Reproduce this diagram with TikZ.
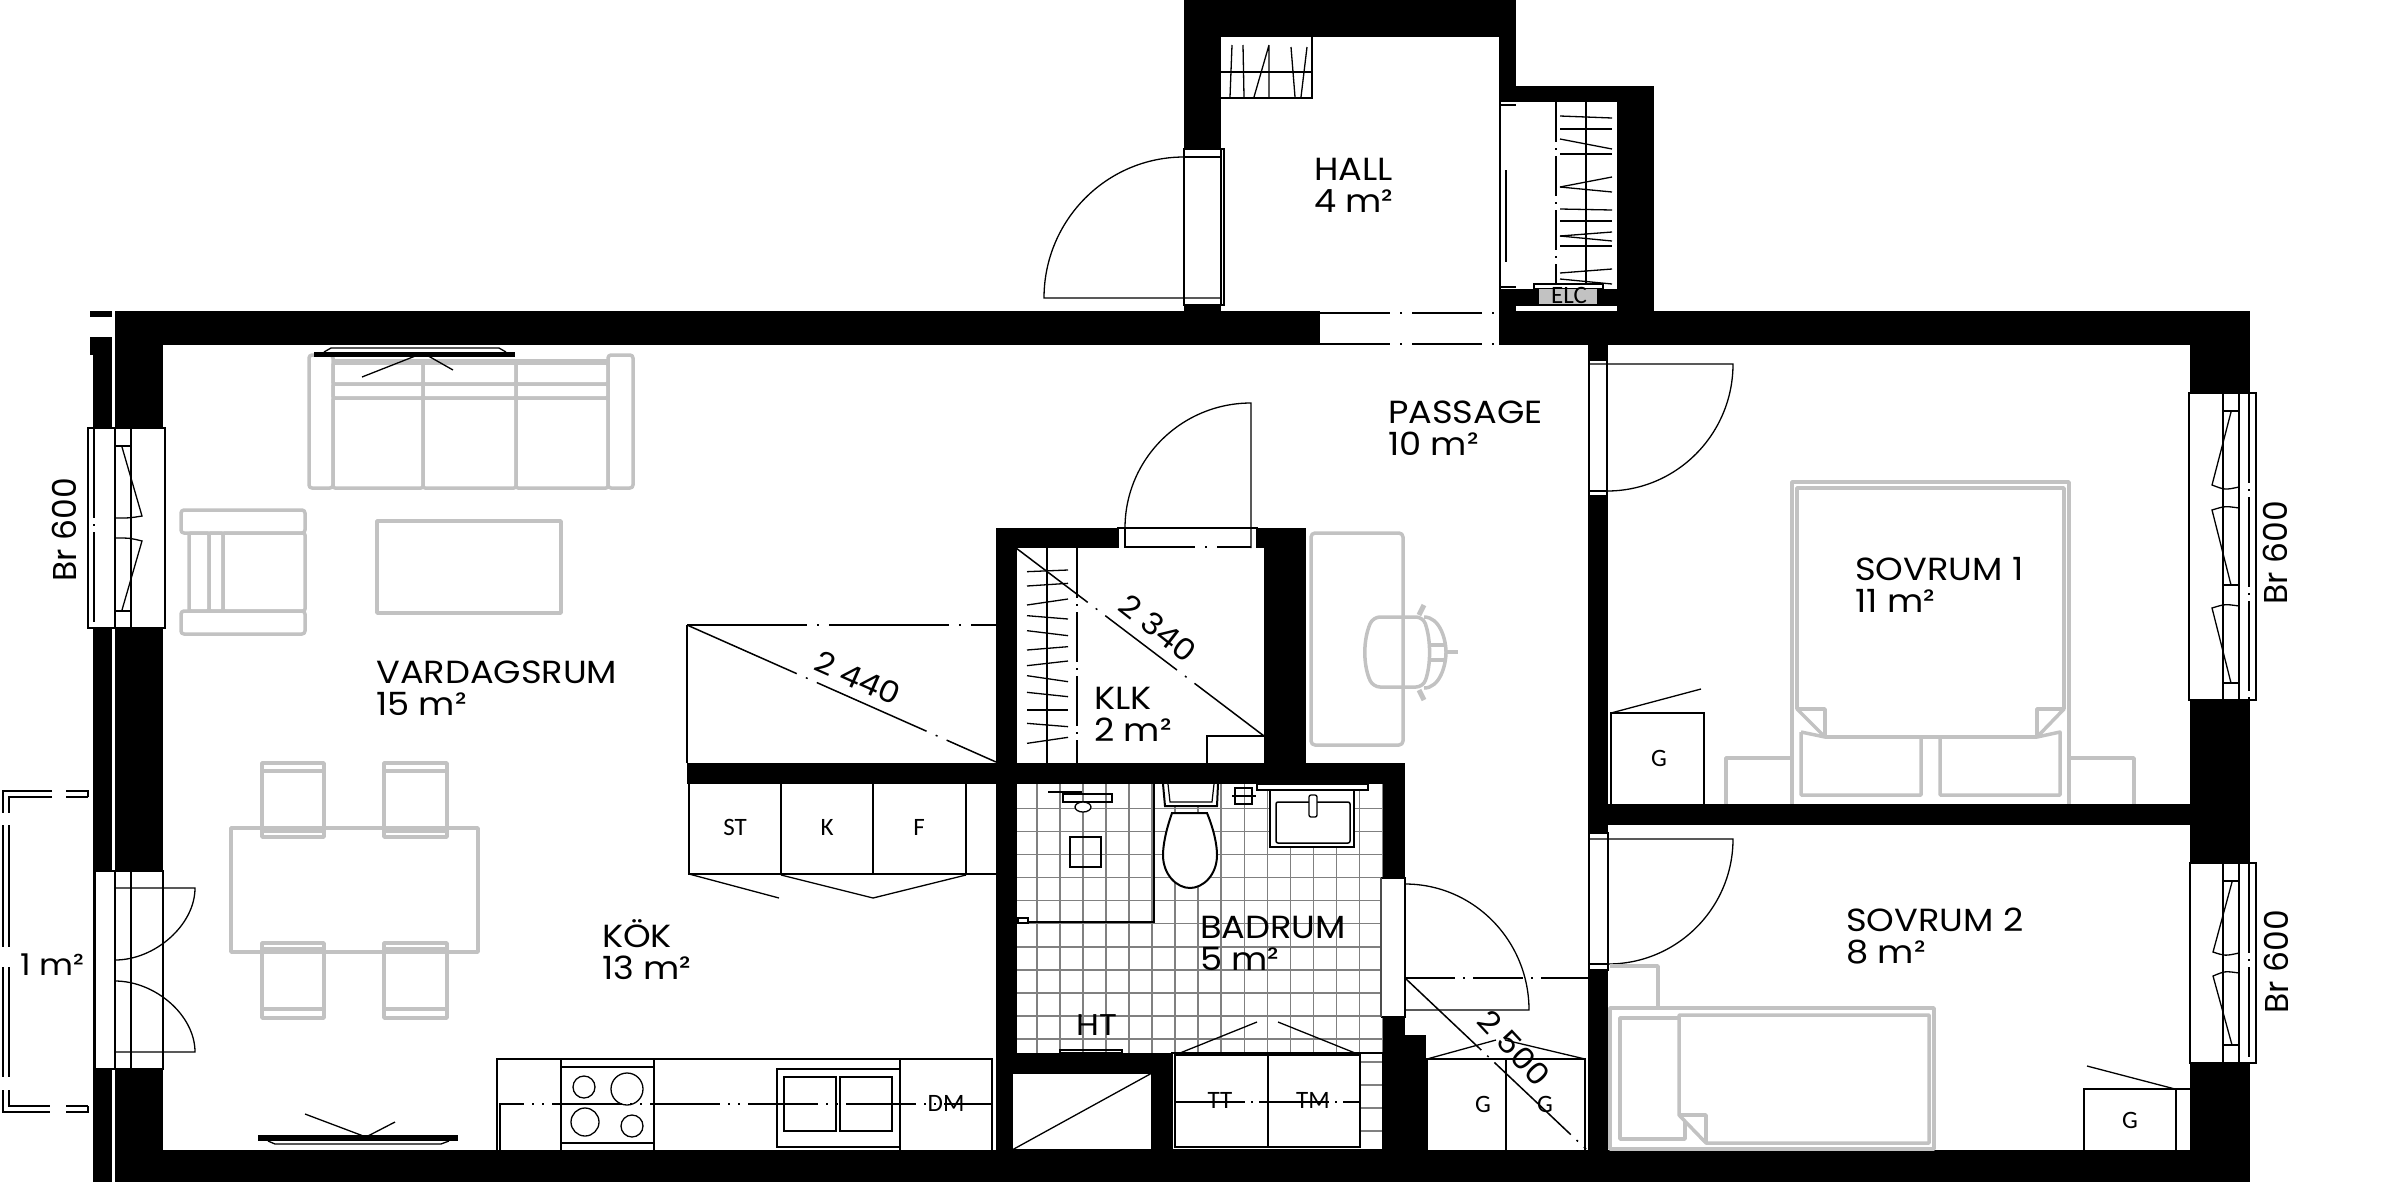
\documentclass[tikz,border=0pt]{standalone}
\usepackage{fontspec}
\setmainfont[FakeStretch=1.1]{Poppins}
\newfontfamily\brfont{Poppins}
\newfontfamily\cabfont{Carlito}
\begin{document}
\begin{tikzpicture}[x=1pt,y=-1pt,
    wall/.style={fill=black,draw=none},
    open/.style={fill=white,draw=black,line width=1.2pt},
    thin/.style={draw=black,line width=1.3pt},
    axis/.style={draw=black,line width=1.5pt,dash pattern=on 70pt off 10pt on 2pt off 10pt},
    furn/.style={draw=black!24,line width=3.5pt,line join=round},
    tile/.style={draw=black!50,line width=1.6pt},
    roomlabel/.style={anchor=north west,inner sep=0pt,align=left,font=\fontsize{32}{32}\selectfont},
    widthlabel/.style={inner sep=0pt,font=\fontsize{30}{33}\selectfont},
    brlabel/.style={inner sep=0pt,rotate=90,font=\brfont\fontsize{33}{33}\selectfont},
    cablabel/.style={inner sep=0pt,font=\cabfont\fontsize{25}{25}\selectfont}]
  \useasboundingbox (0,0) rectangle (2400,1200);
  \begin{scope}
    \clip (1017,784) rectangle (1383,1053);
    \foreach \k in {0,...,15} {
      \draw[tile] ({1036.7+23.07*\k},784) -- ++(0,270);
      \draw[tile] (1017,{808.3+23.07*\k}) -- ++(367,0);
    }
  \end{scope}
  \begin{scope}
    \clip (1360,1050) rectangle (1383,1150);
    \foreach \k in {0,...,5}
      \draw[tile] (1360,{1061.8+23.07*\k}) -- ++(24,0);
  \end{scope}
  \draw[tile,line width=1pt] (1383,784) -- (1383,1150);
  \fill[wall] (115,311) rectangle (2250,345);
  \fill[wall] (115,311) rectangle (163,1182);
  \fill[wall] (93,337) rectangle (112,1182);
  \fill[wall] (90,311) rectangle (112,317);
  \fill[wall] (90,337) rectangle (112,355);
  \fill[wall] (115,1150) rectangle (2250,1182);
  \fill[wall] (2190,311) rectangle (2250,1182);
  \fill[wall] (1184,0) rectangle (1516,37);
  \fill[wall] (1184,0) rectangle (1221,311);
  \fill[wall] (1499,0) rectangle (1516,102);
  \fill[wall] (1499,86) rectangle (1654,102);
  \fill[wall] (1617,86) rectangle (1654,311);
  \fill[wall] (1499,289) rectangle (1617,306);
  \fill[wall] (1499,289) rectangle (1516,345);
  \fill[wall] (1588,345) rectangle (1608,1150);
  \fill[wall] (1608,804) rectangle (2190,825);
  \fill[wall] (996,528) rectangle (1306,548);
  \fill[wall] (996,528) rectangle (1017,1150);
  \fill[wall] (1264,528) rectangle (1306,763);
  \fill[wall] (687,763) rectangle (1405,784);
  \fill[wall] (1383,763) rectangle (1405,1150);
  \fill[wall] (1405,1035) rectangle (1426,1150);
  \fill[wall] (1017,1053) rectangle (1172,1073);
  \fill[wall] (1152,1053) rectangle (1172,1150);

  \fill[white] (1320,311) rectangle (1499,345);
  \draw[axis] (1320,313) -- (1499,313);
  \draw[axis] (1320,344) -- (1499,344);

  \draw[thin,fill=white] (1012,1073) rectangle (1152,1150);
  \draw[thin] (1012,1150) -- (1152,1073);

  \draw[open] (88,428) rectangle (165,628);
  \draw[thin] (115,428) -- (115,628) (131,428) -- (131,628);
  \draw[axis,dash pattern=on 90pt off 6pt on 2pt off 6pt] (94,428) -- (94,628);
  \draw[thin] (115,446) -- (131,446) (115,611) -- (131,611);
  \draw[thin] (122,447) -- (142,516) .. controls (130,518) .. (115,518);
  \draw[thin] (115,538) .. controls (130,538) .. (142,541) -- (122,610);

  \fill[white] (95,871) rectangle (163,1069);
  \draw[thin] (95,871) -- (163,871) -- (163,1069) -- (95,1069) -- cycle;
  \draw[thin] (115,871) -- (115,1069) (131,871) -- (131,1069);
  \draw[thin] (115,888) -- (195,888) .. controls (195,925) and (155,960) .. (115,960);
  \draw[thin] (115,1052) -- (195,1052) .. controls (195,1015) and (155,981) .. (115,981);

  \draw[thin] (88,797) -- (88,791) -- (66,791) (52,791) -- (3,791) -- (3,813)
    (3,825) -- (3,947) (3,967) -- (3,1077) (3,1090) -- (3,1112) -- (50,1112) (66,1112) -- (88,1112) -- (88,1106);
  \draw[thin] (88,797) -- (66,797) (52,797) -- (9,797) -- (9,813)
    (9,825) -- (9,947) (9,967) -- (9,1077) (9,1090) -- (9,1106) -- (50,1106) (66,1106) -- (88,1106);

  \fill[white] (1184,149) rectangle (1224,305);
  \draw[thin] (1184,149) -- (1224,149) -- (1224,305) -- (1184,305) -- cycle;
  \draw[thin] (1221,149) -- (1221,305) (1184,157) -- (1221,157);
  \draw[thin] (1221,298) -- (1044,298) arc[start angle=180,end angle=90,x radius=140,y radius=-141];

  \draw[thin] (1221,98) -- (1312,98) -- (1312,37);
  \draw[thin] (1221,72) -- (1312,72);
  \draw[thin] (1232,45) -- (1230,97) (1243,45) -- (1244,97) (1269,45) -- (1254,97)
    (1269,45) -- (1269,97) (1291,47) -- (1295,97) (1307,47) -- (1301,97);

  \fill[white] (1499,102) rectangle (1516,289);
  \draw[thin] (1500,102) -- (1500,289) (1499,105) -- (1516,105) (1499,287) -- (1516,287);
  \draw[thin] (1506,170) -- (1506,262);
  \draw[axis,dash pattern=on 40pt off 6pt on 2pt off 6pt] (1556,102) -- (1556,284);
  \draw[thin] (1586,102) -- (1586,284);
  \foreach \a/\b in {116/118,129/129,139/149,154/154,187/177,187/192,209/210,221/221,236/232,236/241,246/246,273/269,279/284}
    \draw[thin] (1560,\a) -- (1612,\b);
  \draw[thin,fill=white] (1534,284) rectangle (1603,289);
  \fill[black!24] (1539,289) rectangle (1597,304);
  \node[cablabel] (elc) at (1569,295) {ELC};

  \fill[white] (1118,528) rectangle (1257,548);
  \draw[thin] (1118,548) -- (1118,528) -- (1257,528) -- (1257,548);
  \draw[thin] (1125,528) -- (1125,548);
  \draw[thin] (1251,548) -- (1251,403) arc[start angle=90,end angle=180,x radius=126,y radius=-125];
  \draw[axis] (1125,547) -- (1251,547);

  \draw[axis,dash pattern=on 50pt off 6pt on 2pt off 6pt] (1077,548) -- (1077,763);
  \draw[thin] (1047,548) -- (1047,763);
  \foreach \a/\b in {215/210,258/250,315/297,347/357,392/407,450/440,497/483,527/545,577/590,630/630,670/680,730/712}
    \draw[thin] (1027,{500+\a/3}) -- (1068,{500+\b/3});
  \draw[axis,dash pattern=on 90pt off 10pt on 2pt off 10pt] (1016,548) -- (1264,736);
  \draw[thin] (1207,763) -- (1207,736) -- (1264,736);
  \node[widthlabel,rotate=-38] (klkwidth) at (1158,628) {2 340};

  \draw[thin] (687,763) -- (687,625);
  \draw[axis,dash pattern=on 120pt off 10pt on 2pt off 10pt] (687,625) -- (996,625);
  \draw[axis,dash pattern=on 120pt off 10pt on 2pt off 10pt] (687,625) -- (996,762);
  \node[widthlabel,rotate=-24] (kokwidth) at (858,678) {2 440};

  \draw[thin] (689,784) -- (689,874) -- (996,874);
  \draw[thin] (781,784) -- (781,874) (873,784) -- (873,874) (966,784) -- (966,874);
  \draw[thin] (689,874) -- (779,898) (781,875) -- (873,898) (966,875) -- (873,898);
  \node[cablabel] (st) at (735,827) {ST};
  \node[cablabel] (k) at (827,827) {K};
  \node[cablabel] (f) at (919,827) {F};

  \draw[thin] (497,1150) -- (497,1059) -- (992,1059) -- (992,1150);
  \draw[thin] (561,1059) -- (561,1150) (654,1059) -- (654,1150) (900,1059) -- (900,1150);
  \draw[thin] (561,1067) -- (654,1067) (561,1143) -- (654,1143);
  \draw[axis,dash pattern=on 70pt off 8pt on 2pt off 8pt on 2pt off 8pt] (500,1150) -- (500,1104) -- (992,1104);
  \draw[thin] (584,1087) ellipse[x radius=11,y radius=11];
  \draw[thin] (627,1089) ellipse[x radius=16,y radius=16];
  \draw[thin] (585,1122) ellipse[x radius=14,y radius=14];
  \draw[thin] (632,1126) ellipse[x radius=11,y radius=11];
  \draw[thin] (777,1147) rectangle (900,1069);
  \draw[thin] (784,1077) rectangle (836,1131);
  \draw[thin] (840,1077) rectangle (892,1131);
  \node[cablabel] (dm) at (946,1103) {DM};

  \draw[line width=2.5pt] (1154,784) -- (1154,922) -- (1028,922);
  \draw[open] (1018,918) rectangle (1028,923);
  \draw[thin] (1070,837) rectangle (1101,867);
  \draw[line width=2pt] (1048,792) -- (1082,792);
  \draw[thin] (1063,794) rectangle (1112,802);
  \draw[thin,fill=white] (1083,807) ellipse[x radius=8,y radius=5];
  \draw[line width=2pt,fill=white] (1163,784) -- (1165,806) -- (1217,806) -- (1218,784);
  \draw[line width=1.2pt] (1168,784) -- (1170,802) -- (1212,802) -- (1214,784);
  \draw[line width=2pt,fill=white] (1172,813) -- (1207,813)
    .. controls (1214,830) and (1217,845) .. (1217,855)
    .. controls (1217,875) and (1203,888) .. (1190,888)
    .. controls (1177,888) and (1163,875) .. (1163,855)
    .. controls (1163,845) and (1166,830) .. (1172,813) -- cycle;
  \draw[thin] (1235,788) rectangle (1252,804);
  \draw[thin] (1232,796) -- (1256,796);
  \draw[line width=2pt,fill=white] (1270,790) -- (1270,847) -- (1354,847) -- (1354,790);
  \draw[line width=1.5pt,rounded corners=2pt] (1276,802) rectangle (1350,843);
  \draw[open] (1257,784) rectangle (1368,790);
  \draw[thin,fill=white,rounded corners=2pt] (1309,795) rectangle (1317,817);
  \draw[line width=1.5pt] (1060,1053) rectangle (1122,1050);

  \draw[thin] (1172,1053) rectangle (1383,1150);
  \draw[line width=1.6pt,fill=white] (1175,1055) rectangle (1360,1147);
  \draw[thin] (1268,1055) -- (1268,1147);
  \draw[axis,dash pattern=on 70pt off 6pt on 2pt off 6pt] (1175,1102) -- (1360,1102);
  \draw[thin] (1175,1055) -- (1257,1022) (1360,1055) -- (1278,1022);
  \node[cablabel] (tt) at (1220,1100) {TT};
  \node[cablabel] (tm) at (1313,1100) {TM};

  \fill[white] (1381,878) rectangle (1405,1017);
  \draw[thin] (1381,878) -- (1405,878) -- (1405,1017) -- (1381,1017);
  \draw[line width=2.5pt,black!70] (1381,878) -- (1381,1017);
  \draw[thin] (1405,1010) -- (1529,1010) arc[start angle=0,end angle=90,x radius=124,y radius=-126];
  \draw[axis,dash pattern=on 50pt off 8pt on 2pt off 8pt] (1405,978) -- (1588,978);
  \draw[axis,dash pattern=on 105pt off 8pt on 2pt off 8pt] (1405,978) -- (1586,1149);
  \node[widthlabel,rotate=-47] (passwidth) at (1514,1048) {2 500};

  \draw[thin] (1427,1150) -- (1427,1059) -- (1585,1059) -- (1585,1150);
  \draw[thin] (1506,1059) -- (1506,1150);
  \draw[thin] (1427,1059) -- (1496,1040) (1585,1059) -- (1505,1040);
  \node[cablabel] (ga) at (1483,1104) {G};
  \node[cablabel] (gb) at (1545,1104) {G};

  \draw[open] (1589,360) rectangle (1607,496);
  \draw[thin] (1589,364) -- (1733,364) arc[start angle=0,end angle=-90,x radius=126,y radius=-127];
  \draw[thin] (1589,491) -- (1607,491);
  \draw[open] (1589,833) rectangle (1608,970);
  \draw[thin] (1589,839) -- (1733,839) arc[start angle=0,end angle=-90,x radius=125,y radius=-125];
  \draw[thin] (1589,964) -- (1608,964);

  \draw[thin] (1611,804) -- (1611,713) -- (1704,713) -- (1704,804);
  \draw[thin] (1611,713) -- (1701,689);
  \node[cablabel] (gc) at (1659,758) {G};
  \draw[thin] (2084,1150) -- (2084,1089) -- (2191,1089);
  \draw[thin] (2176,1089) -- (2176,1150);
  \draw[thin] (2175,1089) -- (2087,1066);
  \node[cablabel] (gd) at (2130,1120) {G};

  \draw[open] (2189,393) rectangle (2256,700);
  \draw[thin] (2223,393) -- (2223,700) (2239,393) -- (2239,700);
  \draw[axis,dash pattern=on 90pt off 6pt on 2pt off 6pt] (2249,393) -- (2249,700);
  \draw[thin] (2223,411) -- (2239,411) (2223,683) -- (2239,683) (2223,585) -- (2239,585);
  \draw[thin] (2231,412) -- (2212,485) .. controls (2225,490) .. (2239,487);
  \draw[thin] (2239,508) .. controls (2225,506) .. (2212,510) -- (2231,585);
  \draw[thin] (2239,606) .. controls (2225,604) .. (2212,608) -- (2231,683);

  \draw[open] (2190,863) rectangle (2256,1063);
  \draw[thin] (2223,863) -- (2223,1063) (2239,863) -- (2239,1063);
  \draw[axis,dash pattern=on 90pt off 6pt on 2pt off 6pt] (2249,863) -- (2249,1063);
  \draw[thin] (2223,881) -- (2239,881) (2223,1045) -- (2239,1045);
  \draw[thin] (2232,882) -- (2213,952) .. controls (2225,956) .. (2239,953);
  \draw[thin] (2239,973) .. controls (2225,971) .. (2213,976) -- (2232,1045);

  \draw[furn,rounded corners=3pt] (309,488) rectangle (333,355);
  \draw[furn,rounded corners=3pt] (608,488) rectangle (633,355);
  \draw[furn] (333,361) -- (608,361);
  \foreach \xa/\xb in {333/423,423/516,516/608} {
    \draw[furn,rounded corners=2pt] (\xa,363) rectangle (\xb,384);
    \draw[furn,rounded corners=2pt] (\xa,384) rectangle (\xb,398);
    \draw[furn,rounded corners=2pt] (\xa,398) rectangle (\xb,488);
  }
  \draw[furn,rounded corners=3pt] (181,510) rectangle (305,533);
  \draw[furn,rounded corners=3pt] (181,611) rectangle (305,634);
  \draw[furn,rounded corners=2pt] (189,533) rectangle (209,611);
  \draw[furn,rounded corners=2pt] (209,533) rectangle (223,611);
  \draw[furn,rounded corners=2pt] (223,533) rectangle (305,611);
  \draw[furn] (377,521) rectangle (561,613);

  \fill (314,352) rectangle (515,357);
  \draw[thin] (324,352) -- (331,348) -- (499,348) -- (506,352);
  \draw[thin] (362,377) -- (423,353) -- (453,370);
  \fill (258,1135) rectangle (458,1141);
  \draw[thin] (268,1141) -- (275,1144) -- (441,1144) -- (449,1141);
  \draw[thin] (305,1114) -- (366,1137) -- (395,1122);

  \draw[furn] (231,828) rectangle (478,952);
  \foreach \xa/\xb in {262/324,384/447} {
    \draw[furn] (\xa,763) rectangle (\xb,837);
    \draw[furn] (\xa,771) -- (\xb,771) (\xa,831) -- (\xb,831);
    \draw[furn] (\xa,943) rectangle (\xb,1018);
    \draw[furn] (\xa,1009) -- (\xb,1009) (\xa,949) -- (\xb,949);
  }

  \draw[furn,rounded corners=4pt] (1311,533) rectangle (1403,745);
  \draw[furn,rounded corners=7pt] (1373,617) .. controls (1363,640) and (1363,665) .. (1373,687) -- (1423,687)
    .. controls (1431,665) and (1431,640) .. (1423,617) -- cycle;
  \draw[furn] (1424,617) .. controls (1440,617) and (1446,640) .. (1446,652) .. controls (1446,665) and (1440,688) .. (1424,688);
  \draw[furn] (1430,645) -- (1446,645) (1430,660) -- (1446,660) (1446,652) -- (1458,652);
  \draw[furn,line width=5pt] (1419,615) -- (1424,605) (1419,690) -- (1424,700);

  \draw[furn] (1792,804) -- (1792,482) -- (2069,482) -- (2069,804);
  \draw[furn] (1797,488) -- (2064,488) -- (2064,709) -- (2037,709) -- (2037,737) -- (1825,737) -- (1825,709) -- (1797,709) -- cycle;
  \draw[furn] (1797,709) -- (1825,737) (2064,709) -- (2037,737);
  \draw[furn] (1825,737) -- (1801,732) (1801,732) -- (1801,795) -- (1921,795) -- (1921,737);
  \draw[furn] (2037,737) -- (2060,732) -- (2060,795) -- (1940,795) -- (1940,737);
  \draw[furn] (1726,804) -- (1726,758) -- (1792,758);
  \draw[furn] (2069,758) -- (2134,758) -- (2134,804);

  \draw[furn] (1610,1008) rectangle (1934,1149);
  \draw[furn] (1679,1015) -- (1929,1015) -- (1929,1143) -- (1706,1143) -- (1679,1115) -- cycle;
  \draw[furn] (1679,1115) -- (1706,1115) -- (1706,1143);
  \draw[furn] (1679,1018) -- (1620,1018) -- (1620,1139) -- (1685,1139) -- (1685,1122);
  \draw[furn] (1610,966) -- (1658,966) -- (1658,1008);

  \node[roomlabel] (hall) at (1314,158) {HALL\\4 m²};
  \node[roomlabel] (passage) at (1388,401) {PASSAGE\\10 m²};
  \node[roomlabel] (vardagsrum) at (376,661) {VARDAGSRUM\\15 m²};
  \node[roomlabel] (kok) at (602,919) {KÖK\\13 m²};
  \node[roomlabel] (klk) at (1094,687) {KLK\\2 m²};
  \node[roomlabel] (badrum) at (1200,916) {BADRUM\\5 m²};
  \node[roomlabel] (sovrumett) at (1855,557) {SOVRUM 1\\11 m²};
  \node[roomlabel] (sovrumtva) at (1846,908) {SOVRUM 2\\8 m²};
  \node[widthlabel,anchor=base west] (balkong) at (20,975) {1 m²};
  \node[widthlabel,anchor=base west] (ht) at (1076,1035) {HT};
  \node[brlabel] (bra) at (64,530) {Br 600};
  \node[brlabel] (brb) at (2275,553) {Br 600};
  \node[brlabel] (brc) at (2276,962) {Br 600};
\end{tikzpicture}
\end{document}
